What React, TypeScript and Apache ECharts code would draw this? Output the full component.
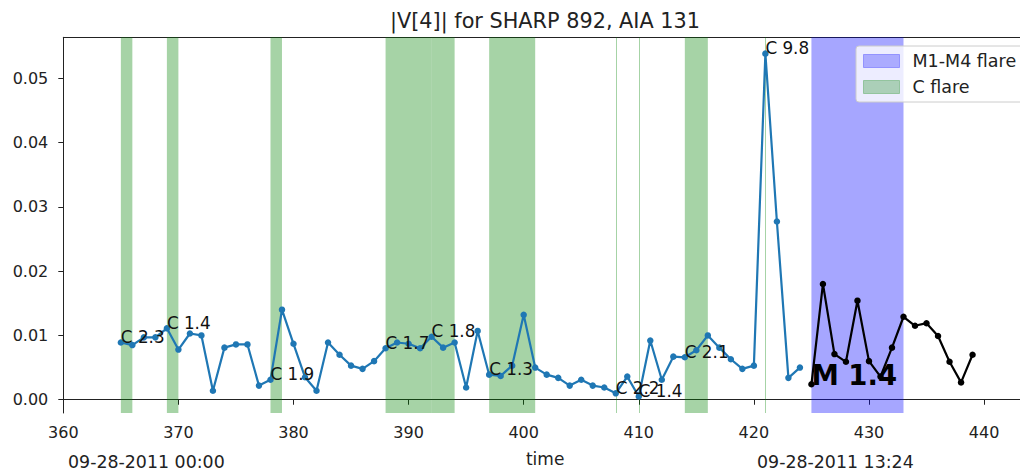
import React, { useEffect, useRef } from "react";
import * as echarts from "echarts";

// |V[4]| time series (time index vs value)
const quietTimes = [
  365, 366, 367, 368, 369, 370, 371, 372, 373, 374, 375, 376, 377, 378, 379, 380,
  381, 382, 383, 384, 385, 386, 387, 388, 389, 390, 391, 392, 393, 394, 395, 396,
  397, 398, 399, 400, 401, 402, 403, 404, 405, 406, 407, 408, 409, 410, 411, 412,
  413, 414, 415, 416, 417, 418, 419, 420, 421, 422, 423, 424,
];
const quietValues = [
  0.0089, 0.0085, 0.0097, 0.0097, 0.0111, 0.0078, 0.0103, 0.01, 0.0014, 0.0081,
  0.0086, 0.0086, 0.0022, 0.0031, 0.014, 0.0087, 0.0035, 0.0014, 0.0089, 0.007,
  0.0053, 0.0048, 0.006, 0.008, 0.0089, 0.0087, 0.008, 0.0098, 0.0081, 0.0089,
  0.0019, 0.0107, 0.0039, 0.0037, 0.0053, 0.0132, 0.005, 0.0039, 0.0034, 0.0022,
  0.0031, 0.0022, 0.0019, 0.001, 0.0036, 0.0005, 0.0092, 0.0031, 0.0067, 0.0066,
  0.0077, 0.01, 0.0081, 0.0063, 0.0048, 0.0053, 0.0538, 0.0277, 0.0034, 0.005,
];

const flareTimes = [425, 426, 427, 428, 429, 430, 431, 432, 433, 434, 435, 436, 437, 438, 439];
const flareValues = [
  0.0024, 0.018, 0.0071, 0.0059, 0.0154, 0.006, 0.0036, 0.0081, 0.0129, 0.0115,
  0.0119, 0.0099, 0.0059, 0.0027, 0.007,
];

// Flare intervals: [start, end, label]
const cFlares: [number, number, string][] = [
  [365, 366, "C 2.3"],
  [369, 370, "C 1.4"],
  [378, 379, "C 1.9"],
  [388, 392, "C 1.7"],
  [392, 394, "C 1.8"],
  [397, 401, "C 1.3"],
  [408, 408, "C 2.2"],
  [410, 410, "C 1.4"],
  [414, 416, "C 2.1"],
  [421, 421, "C 9.8"],
];
const mFlares: [number, number, string][] = [[425, 433, "M 1.4"]];

const xTicks = [360, 370, 380, 390, 400, 410, 420, 430, 440];
const yTicks = [0, 0.01, 0.02, 0.03, 0.04, 0.05];

const titleText = "|V[4]| for SHARP 892, AIA 131";
const startLabel = "09-28-2011 00:00";
const endLabel = "09-28-2011 13:24";

const FONT = "DejaVu Sans";
const GREEN = "rgba(0,128,0,0.35)";
const BLUE = "rgba(0,0,255,0.35)";

function valueAt(t: number): number {
  const i = quietTimes.indexOf(t);
  if (i >= 0) return quietValues[i];
  const j = flareTimes.indexOf(t);
  return j >= 0 ? flareValues[j] : 0;
}

export default function App() {
  const ref = useRef<HTMLDivElement>(null);

  useEffect(() => {
    document.body.style.margin = "0";
    document.body.style.overflow = "hidden";
    const chart = echarts.init(ref.current!, undefined, { renderer: "svg" });

    const cSpans = cFlares.filter((f) => f[1] > f[0]);
    const cLines = cFlares.filter((f) => f[1] === f[0]);

    chart.setOption({
      animation: false,
      grid: { left: 63.3, top: 37.3, bottom: 57, right: 0 },
      xAxis: [
        {
          type: "value",
          min: 360,
          max: 443.73,
          interval: 10,
          name: "time",
          nameLocation: "middle",
          nameGap: 37,
          nameTextStyle: { fontFamily: FONT, fontSize: 17, color: "#222" },
          axisLine: { lineStyle: { color: "#222", width: 1 } },
          axisTick: { show: true, length: 5, lineStyle: { color: "#222" }, customValues: xTicks },
          axisLabel: { fontFamily: FONT, fontSize: 16, color: "#222", margin: 11, customValues: xTicks },
          splitLine: { show: false },
        },
        {
          type: "value",
          position: "top",
          min: 360,
          max: 443.73,
          axisLine: { show: true, onZero: false, lineStyle: { color: "#222", width: 1 } },
          axisTick: { show: false },
          axisLabel: { show: false },
          splitLine: { show: false },
        },
      ],
      yAxis: [
        {
          type: "value",
          min: -0.00206,
          max: 0.05634,
          axisLine: { show: true, onZero: false, lineStyle: { color: "#222", width: 1 } },
          axisTick: { show: true, length: 5, lineStyle: { color: "#222" }, customValues: yTicks },
          axisLabel: {
            fontFamily: FONT,
            fontSize: 16,
            color: "#222",
            margin: 15,
            customValues: yTicks,
            formatter: (v: number) => v.toFixed(2),
          },
          splitLine: { show: false },
        },
      ],
      legend: {
        orient: "vertical",
        left: 856,
        top: 46,
        padding: [6, 8, 6, 7],
        itemWidth: 36,
        itemHeight: 13,
        itemGap: 8,
        backgroundColor: "rgba(255,255,255,0.8)",
        borderColor: "#cccccc",
        borderWidth: 1,
        borderRadius: 3,
        selectedMode: false,
        textStyle: { fontFamily: FONT, fontSize: 17.5, color: "#222", padding: [0, 0, 0, 8] },
        data: [
          { name: "M1-M4 flare", icon: "rect", itemStyle: { color: BLUE, borderColor: BLUE, borderWidth: 1 } },
          { name: "C flare", icon: "rect", itemStyle: { color: GREEN, borderColor: GREEN, borderWidth: 1 } },
        ],
      },
      series: [
        {
          name: "M1-M4 flare",
          type: "scatter",
          data: [],
          itemStyle: { color: BLUE },
          silent: true,
          markArea: {
            silent: true,
            itemStyle: { color: BLUE, borderWidth: 0 },
            data: mFlares.map((f) => [{ xAxis: f[0] }, { xAxis: f[1] }]),
          },
        },
        {
          name: "C flare",
          type: "scatter",
          data: [],
          itemStyle: { color: GREEN },
          silent: true,
          markArea: {
            silent: true,
            itemStyle: { color: GREEN, borderWidth: 0 },
            data: cSpans.map((f) => [{ xAxis: f[0] }, { xAxis: f[1] }]),
          },
          markLine: {
            silent: true,
            symbol: "none",
            label: { show: false },
            lineStyle: { color: GREEN, width: 1, type: "solid" },
            data: cLines.map((f) => ({ xAxis: f[0] })),
          },
        },
        {
          name: "quiet",
          type: "line",
          data: quietTimes.map((t, i) => [t, quietValues[i]]),
          symbol: "circle",
          symbolSize: 6.5,
          itemStyle: { color: "#1f77b4" },
          lineStyle: { color: "#1f77b4", width: 2.2 },
          z: 5,
          silent: true,
        },
        {
          name: "flare",
          type: "line",
          data: flareTimes.map((t, i) => [t, flareValues[i]]),
          symbol: "circle",
          symbolSize: 6.5,
          itemStyle: { color: "#000" },
          lineStyle: { color: "#000", width: 2.2 },
          z: 5,
          silent: true,
        },
      ],
    });

    // Flare labels sit with their baseline on the series value at flare start
    const texts: any[] = [];
    cFlares.forEach((f) => {
      const [px, py] = chart.convertToPixel({ gridIndex: 0 }, [f[0], valueAt(f[0])]);
      texts.push({
        type: "text",
        x: px,
        y: py + 3,
        z: 20,
        style: { text: f[2], fontFamily: FONT, fontSize: 16.8, fill: "#111", align: "left", verticalAlign: "bottom" },
      });
    });
    mFlares.forEach((f) => {
      const [px, py] = chart.convertToPixel({ gridIndex: 0 }, [f[0], valueAt(f[0])]);
      texts.push({
        type: "text",
        x: px,
        y: py + 5,
        z: 20,
        style: {
          text: f[2],
          fontFamily: FONT,
          fontSize: 27.5,
          fontWeight: "bold",
          fill: "#000",
          align: "left",
          verticalAlign: "bottom",
        },
      });
    });
    texts.push(
      {
        type: "text",
        x: 545,
        y: 21,
        style: { text: titleText, fontFamily: FONT, fontSize: 20.8, fill: "#222", align: "center", verticalAlign: "middle" },
      },
      {
        type: "text",
        x: 68,
        y: 462,
        style: { text: startLabel, fontFamily: FONT, fontSize: 17.4, fill: "#222", align: "left", verticalAlign: "middle" },
      },
      {
        type: "text",
        x: 757,
        y: 462,
        style: { text: endLabel, fontFamily: FONT, fontSize: 17.4, fill: "#222", align: "left", verticalAlign: "middle" },
      }
    );
    chart.setOption({ graphic: texts });

    return () => chart.dispose();
  }, []);

  return (
    <div
      ref={ref}
      style={{ position: "absolute", left: 0, top: 0, width: 1027, height: 472 }}
    />
  );
}
